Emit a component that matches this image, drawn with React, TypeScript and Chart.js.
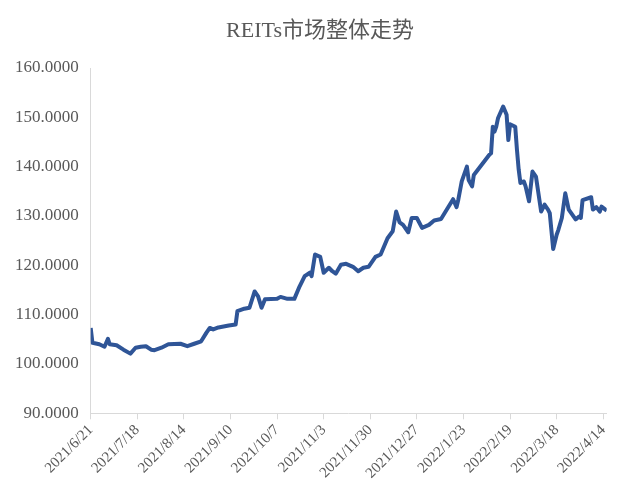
import { useEffect, useRef } from "react";
import { Chart, registerables } from "chart.js";

Chart.register(...registerables);

const title = "REITs市场整体走势";

const dates: string[] = [
  "2021-06-21", "2021-06-22", "2021-06-26", "2021-06-29", "2021-07-01", "2021-07-02",
  "2021-07-06", "2021-07-10", "2021-07-14", "2021-07-17", "2021-07-20", "2021-07-23",
  "2021-07-26", "2021-07-28", "2021-08-01", "2021-08-05", "2021-08-12", "2021-08-16",
  "2021-08-20", "2021-08-24", "2021-08-27", "2021-08-29", "2021-08-31",
  "2021-09-03", "2021-09-09", "2021-09-13", "2021-09-14", "2021-09-18", "2021-09-21",
  "2021-09-24", "2021-09-26", "2021-09-28", "2021-09-30", "2021-10-07", "2021-10-09",
  "2021-10-13", "2021-10-17", "2021-10-20", "2021-10-23", "2021-10-26", "2021-10-27",
  "2021-10-29", "2021-11-01", "2021-11-03", "2021-11-06", "2021-11-08",
  "2021-11-10", "2021-11-13", "2021-11-16", "2021-11-20", "2021-11-23", "2021-11-26",
  "2021-11-29", "2021-12-03", "2021-12-06", "2021-12-10", "2021-12-13", "2021-12-15",
  "2021-12-17", "2021-12-19", "2021-12-22", "2021-12-24", "2021-12-27", "2021-12-30",
  "2022-01-03", "2022-01-06", "2022-01-10", "2022-01-13", "2022-01-17", "2022-01-19",
  "2022-01-20", "2022-01-22", "2022-01-25", "2022-01-26", "2022-01-28", "2022-01-29",
  "2022-02-07", "2022-02-08", "2022-02-09", "2022-02-10", "2022-02-11", "2022-02-12",
  "2022-02-15", "2022-02-17", "2022-02-18", "2022-02-19", "2022-02-22", "2022-02-23",
  "2022-02-24", "2022-02-25", "2022-02-27", "2022-02-28", "2022-03-02", "2022-03-04",
  "2022-03-06", "2022-03-09", "2022-03-11", "2022-03-13", "2022-03-14", "2022-03-16",
  "2022-03-18", "2022-03-19", "2022-03-21", "2022-03-23", "2022-03-25", "2022-03-29",
  "2022-03-31", "2022-04-01", "2022-04-02", "2022-04-07", "2022-04-08", "2022-04-10",
  "2022-04-12", "2022-04-13", "2022-04-16",
];

const values: number[] = [
  107.3, 104.3, 104.0, 103.5, 105.1, 104.0,
  103.8, 102.9, 102.1, 103.3, 103.5, 103.6,
  102.9, 102.8, 103.3, 104.0, 104.1, 103.6,
  104.1, 104.6, 106.3, 107.3, 107.0,
  107.4, 107.8, 108.0, 110.7, 111.2, 111.4,
  114.7, 113.7, 111.4, 113.1, 113.2, 113.6,
  113.2, 113.2, 115.7, 117.8, 118.5, 117.8,
  122.2, 121.7, 118.5, 119.5, 118.8,
  118.3, 120.1, 120.3, 119.7, 118.8, 119.5,
  119.7, 121.7, 122.2, 125.5, 126.9, 130.9,
  128.7, 128.2, 126.7, 129.6, 129.6, 127.6,
  128.2, 129.1, 129.4, 131.1, 133.4, 131.8,
  133.3, 137.0, 140.0, 137.3, 136.0, 138.3,
  142.4, 142.7, 148.1, 147.1, 148.1, 149.8,
  152.2, 150.5, 145.4, 148.6, 148.1, 143.4,
  139.4, 136.7, 137.0, 136.0, 133.0, 139.0,
  138.0, 130.9, 132.3, 131.3, 130.6, 123.3,
  126.2, 127.2, 129.6, 134.6, 131.3, 129.3,
  129.9, 129.6, 133.2, 133.8, 131.3, 131.8,
  130.9, 131.9, 131.1,
];

const tickLabels: string[] = [
  "2021/6/21", "2021/7/18", "2021/8/14", "2021/9/10", "2021/10/7", "2021/11/3",
  "2021/11/30", "2021/12/27", "2022/1/23", "2022/2/19", "2022/3/18", "2022/4/14",
];

const yMin = 90;
const yMax = 160;
const yStep = 10;
const xMaxDate = "2022-04-16";

function toUTC(s: string): number {
  const [y, m, d] = s.split(/[-/]/).map(Number);
  return Date.UTC(y, m - 1, d);
}
const baseTime = toUTC(dates[0]);
function dayOffset(s: string): number {
  return Math.round((toUTC(s) - baseTime) / 86400000);
}

const FONT = "'Liberation Serif', 'Times New Roman', 'Noto Sans CJK SC', serif";
const TEXT = "#595959";
const AXIS = "#d9d9d9";

export default function App() {
  const ref = useRef<HTMLCanvasElement | null>(null);

  useEffect(() => {
    if (!ref.current) return;
    const points = dates.map((d, i) => ({ x: dayOffset(d), y: values[i] }));
    const tickOffsets = tickLabels.map((l) => dayOffset(l));

    const chart = new Chart(ref.current, {
      type: "line",
      data: {
        datasets: [
          {
            label: title,
            data: points,
            borderColor: "#2F5597",
            borderWidth: 4,
            pointRadius: 0,
            tension: 0,
            fill: false,
            borderJoinStyle: "round",
            yAxisID: "y",
          },
        ],
      },
      options: {
        animation: false,
        responsive: false,
        maintainAspectRatio: false,
        layout: { padding: { left: 0, right: 0, top: 0, bottom: 0 } },
        plugins: {
          legend: { display: false },
          tooltip: { enabled: false },
          title: {
            display: true,
            text: title,
            color: TEXT,
            font: { family: FONT, size: 22, weight: "normal", lineHeight: 1.2 },
            padding: { top: 18, bottom: 23.6 },
          },
        },
        scales: {
          x: {
            type: "linear",
            min: 0,
            max: dayOffset(xMaxDate),
            afterBuildTicks: (scale: any) => {
              scale.ticks = tickOffsets.map((v) => ({ value: v }));
            },
            afterFit: (scale: any) => {
              scale.height = 90.7;
            },
            ticks: {
              autoSkip: false,
              maxRotation: 45,
              minRotation: 45,
              color: TEXT,
              padding: 2,
              font: { family: FONT, size: 15 },
              callback: (v: any) => {
                const idx = tickOffsets.indexOf(Number(v));
                return idx >= 0 ? tickLabels[idx] : "";
              },
            },
            grid: {
              display: true,
              drawOnChartArea: false,
              drawTicks: true,
              tickLength: 6,
              color: AXIS,
            },
            border: { display: true, color: AXIS, width: 1 },
          },
          y: {
            type: "linear",
            position: "left",
            min: yMin,
            max: yMax,
            afterFit: (scale: any) => {
              scale.width = 90.7;
            },
            ticks: {
              stepSize: yStep,
              color: TEXT,
              padding: 12,
              font: { family: FONT, size: 17 },
              callback: (v: any) => Number(v).toFixed(4),
            },
            grid: { display: false, drawOnChartArea: false, drawTicks: false },
            border: { display: true, color: AXIS, width: 1 },
          },
          spacer: {
            type: "linear",
            position: "right",
            display: true,
            afterFit: (scale: any) => {
              scale.width = 33.3;
            },
            ticks: { display: false },
            grid: { display: false, drawOnChartArea: false, drawTicks: false },
            border: { display: false },
          },
        },
      },
    });
    return () => chart.destroy();
  }, []);

  return (
    <div style={{ position: "fixed", left: 0, top: 0, width: 640, height: 504, background: "#fff" }}>
      <canvas ref={ref} width={640} height={504} style={{ width: 640, height: 504, display: "block" }} />
    </div>
  );
}
